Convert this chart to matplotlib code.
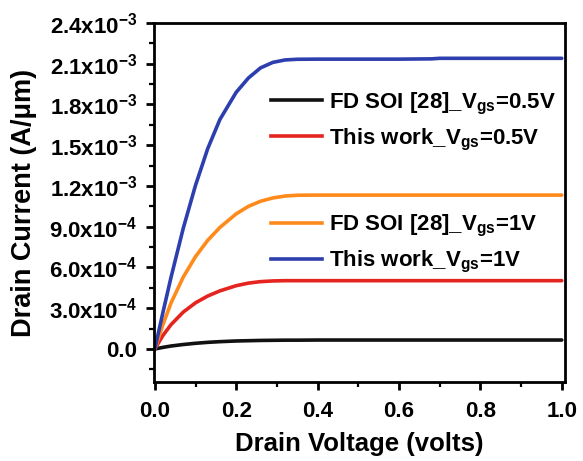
import matplotlib
matplotlib.use("Agg")
import matplotlib.pyplot as plt
from matplotlib.ticker import FuncFormatter, MultipleLocator
from matplotlib.lines import Line2D

plt.rcParams['font.family'] = ['Liberation Sans', 'DejaVu Sans']
plt.rcParams['font.weight'] = 'bold'
plt.rcParams['mathtext.fontset'] = 'custom'
plt.rcParams['mathtext.rm'] = 'Liberation Sans:bold'
plt.rcParams['mathtext.it'] = 'Liberation Sans:bold'
plt.rcParams['mathtext.bf'] = 'Liberation Sans:bold'
plt.rcParams['mathtext.default'] = 'rm'

# Drain voltage samples (V)
vd = [0.0, 0.02, 0.04, 0.07, 0.1, 0.13, 0.16, 0.2, 0.23, 0.26, 0.29, 0.32, 0.35, 0.4,
      0.5, 0.6, 0.68, 0.7, 0.8, 0.9, 1.0]

# Drain current (A/um)
fdsoi_05 = [0.0, 1.2e-5, 2.2e-5, 3.3e-5, 4.2e-5, 4.9e-5, 5.4e-5, 5.9e-5, 6.1e-5, 6.3e-5,
            6.4e-5, 6.5e-5, 6.5e-5, 6.6e-5, 6.6e-5, 6.6e-5, 6.6e-5, 6.6e-5, 6.6e-5, 6.6e-5, 6.6e-5]
this_05 = [0.0, 1.0e-4, 1.8e-4, 2.72e-4, 3.4e-4, 3.9e-4, 4.28e-4, 4.66e-4, 4.85e-4, 4.96e-4,
           5.01e-4, 5.03e-4, 5.03e-4, 5.03e-4, 5.03e-4, 5.03e-4, 5.03e-4, 5.03e-4, 5.03e-4, 5.03e-4, 5.03e-4]
fdsoi_1 = [0.0, 1.8e-4, 3.4e-4, 5.3e-4, 6.8e-4, 8.0e-4, 8.95e-4, 9.95e-4, 1.05e-3, 1.088e-3,
           1.112e-3, 1.126e-3, 1.132e-3, 1.133e-3, 1.133e-3, 1.133e-3, 1.133e-3, 1.133e-3, 1.133e-3, 1.133e-3, 1.133e-3]
this_1 = [0.0, 2.7e-4, 5.3e-4, 8.9e-4, 1.205e-3, 1.475e-3, 1.69e-3, 1.89e-3, 1.995e-3, 2.07e-3,
          2.11e-3, 2.128e-3, 2.133e-3, 2.134e-3, 2.134e-3, 2.134e-3, 2.136e-3, 2.14e-3, 2.14e-3, 2.14e-3, 2.14e-3]

labels = [r"FD SOI [28]_V$_{gs}$=0.5V", r"This work_V$_{gs}$=0.5V",
          r"FD SOI [28]_V$_{gs}$=1V", r"This work_V$_{gs}$=1V"]
colors = ['#111111', '#e52420', '#ff8a1c', '#2d3fae']

fig = plt.figure(figsize=(5.83, 4.61), dpi=100)
ax = fig.add_axes([154/583, 1 - 382/461, 411/583, 359/461])

series = [fdsoi_05, this_05, fdsoi_1, this_1]
for ys, c in zip(series, colors):
    ax.plot(vd, ys, color=c, lw=2.6, solid_capstyle='round', solid_joinstyle='round')

ax.set_xlim(-0.002, 1.008)
ax.set_ylim(-2.43e-4, 2.4e-3)
ax.xaxis.set_major_locator(MultipleLocator(0.2))
ax.xaxis.set_minor_locator(MultipleLocator(0.1))
ax.yaxis.set_major_locator(MultipleLocator(3e-4))
ax.yaxis.set_minor_locator(MultipleLocator(1.5e-4))


def yfmt(v, pos):
    if abs(v) < 1e-12:
        return "0.0"
    exp = -3 if abs(v) >= 1e-3 - 1e-12 else -4
    mant = v / 10 ** exp
    return r"%.1fx10$^{%d}$" % (mant, exp)


ax.yaxis.set_major_formatter(FuncFormatter(yfmt))
ax.xaxis.set_major_formatter(FuncFormatter(lambda v, p: "%.1f" % v))

for s in ax.spines.values():
    s.set_linewidth(2.0)
ax.tick_params(which='major', direction='out', length=6, width=2.0, labelsize=16)
ax.tick_params(axis='y', which='major', pad=6)
ax.tick_params(axis='x', which='major', pad=8)
ax.tick_params(which='minor', direction='out', length=3.5, width=1.6)
ax.tick_params(top=False, right=False)

ax.set_xlabel("Drain Voltage (volts)", fontsize=18.5, fontweight='bold', labelpad=7)
ax.set_ylabel("Drain Current (A/\u03bcm)", fontsize=19.5, fontweight='bold', labelpad=9)

handles = [Line2D([], [], color=c, lw=2.6) for c in colors]
leg_kw = dict(frameon=False, fontsize=16, handlelength=2.3, handletextpad=0.3,
              labelspacing=0.45, borderaxespad=0, borderpad=0)
leg1 = ax.legend(handles[:2], labels[:2], loc='upper left', bbox_to_anchor=(0.285, 0.812), **leg_kw)
ax.add_artist(leg1)
ax.legend(handles[2:], labels[2:], loc='upper left', bbox_to_anchor=(0.285, 0.47), **leg_kw)

fig.savefig("out.png", dpi=100)
